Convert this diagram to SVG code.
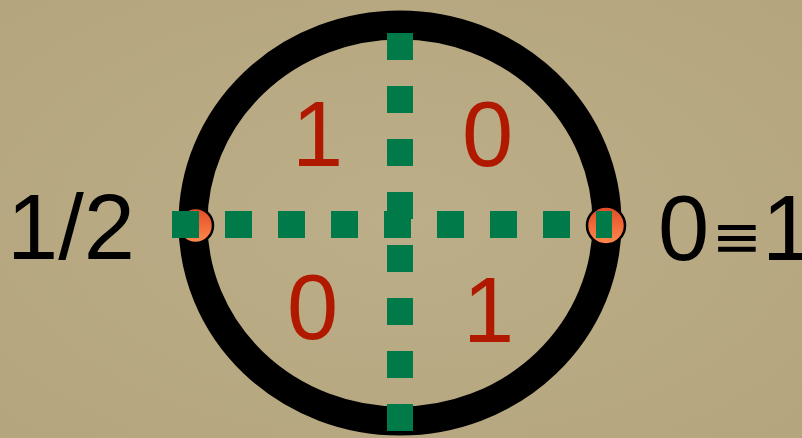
<svg xmlns="http://www.w3.org/2000/svg" width="802" height="438" viewBox="0 0 802 438">
<defs>
<radialGradient id="bg" cx="0.5" cy="0.5" r="0.7">
<stop offset="0" stop-color="#bcae88"/>
<stop offset="1" stop-color="#b4a57e"/>
</radialGradient>
<linearGradient id="marble" x1="0" y1="0" x2="0" y2="1">
<stop offset="0" stop-color="#e14a26"/>
<stop offset="1" stop-color="#ff8a4e"/>
</linearGradient>
<style>
.ring{fill:none;stroke:#000;stroke-width:29}
.dash{fill:none;stroke:#007a48;stroke-dasharray:27 26}
.marble{fill:url(#marble);stroke:#000;stroke-width:2.5}
.red{font-family:"Liberation Sans",Arial,sans-serif;font-size:92px;fill:#b01800}
.blk{font-family:"Liberation Sans",Arial,sans-serif;font-size:92px;fill:#000}
</style>
</defs>
<rect width="802" height="438" fill="url(#bg)"/>
<g id="circle"><ellipse class="ring" cx="400" cy="223" rx="207" ry="198"/></g>
<g id="point-left"><circle class="marble" cx="195.5" cy="225.5" r="17.5"/></g>
<g id="point-right"><circle class="marble" cx="606" cy="225.5" r="19"/></g>
<g id="connectors">
<line class="dash" x1="172" y1="224.5" x2="612" y2="224.5" stroke-width="27"/>
<line class="dash" x1="400" y1="33" x2="400" y2="438" stroke-width="26"/>
</g>
<g id="quadrant-labels">
<text class="red" x="292" y="166">1</text>
<text class="red" x="462" y="166">0</text>
<text class="red" x="287" y="339">0</text>
<text class="red" x="463" y="342">1</text>
</g>
<g id="label-left"><text class="blk" x="7" y="259">1/2</text></g>
<g id="label-right">
<text class="blk" x="658" y="260">0</text>
<text x="737" y="257" text-anchor="middle" font-family="DejaVu Sans,sans-serif" font-size="60" fill="#000">≡</text>
<text class="blk" x="762" y="260">1</text>
</g>
</svg>
